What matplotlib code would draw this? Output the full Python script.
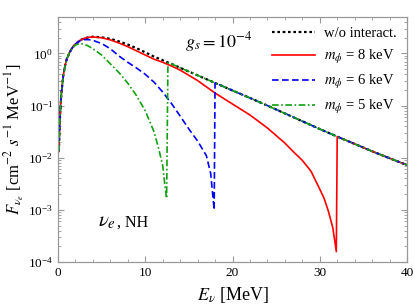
import matplotlib
matplotlib.use("Agg")
import matplotlib.pyplot as plt
from matplotlib.ticker import MultipleLocator, LogLocator, NullFormatter

plt.rcParams['font.family'] = ['Liberation Serif', 'DejaVu Serif']
plt.rcParams['mathtext.fontset'] = 'stix'

# ---- data ----
E_black = [0.1, 0.2, 0.3, 0.4, 0.6, 0.8, 1.0, 1.3, 1.6, 2.0, 2.5, 3.0, 3.5, 4.0,
           5.0, 6.0, 7.0, 8.0, 9.0, 10, 11, 12, 13, 14, 16, 18, 20, 22, 24, 26,
           28, 30, 32, 34, 36, 38, 40]
F_black = [0.0132, 0.0501, 0.105, 0.178, 0.372, 0.575, 0.776, 1.02, 1.26, 1.51,
           1.78, 1.95, 2.04, 2.09, 2.04, 1.91, 1.70, 1.48, 1.26, 1.05, 0.871,
           0.741, 0.631, 0.531, 0.380, 0.272, 0.195, 0.140, 0.100, 0.0708,
           0.0501, 0.0355, 0.0254, 0.0184, 0.0133, 0.00977, 0.00724]

E_red = [0.1, 0.2, 0.3, 0.4, 0.6, 0.8, 1.0, 1.3, 1.6, 2.0, 2.5, 3.0, 3.5, 4.0,
         5.0, 6.0, 7.0, 8.0, 9.0, 10, 11, 12, 13, 14, 16, 18, 20, 22, 24, 26,
         27, 28, 29, 30, 30.5, 31.0, 31.5, 31.9, 32.0, 34, 36, 38, 40]
F_red = [0.0132, 0.0501, 0.105, 0.178, 0.372, 0.575, 0.776, 1.02, 1.26, 1.51,
         1.78, 1.95, 2.04, 2.07, 2.00, 1.82, 1.58, 1.35, 1.12, 0.933, 0.776,
         0.676, 0.575, 0.479, 0.302, 0.174, 0.107, 0.066, 0.0372, 0.0191,
         0.0129, 0.0089, 0.0055, 0.0025, 0.00166, 0.00093, 0.00045, 0.000158,
         0.0254, 0.0184, 0.0133, 0.00977, 0.00724]

E_blue = [0.1, 0.2, 0.3, 0.4, 0.6, 0.8, 1.0, 1.3, 1.6, 2.0, 2.5, 3.0, 3.5, 4.0,
          5.0, 6.0, 7.0, 8.0, 9.0, 10, 11, 12, 13, 14, 15, 16, 17, 17.5, 17.9,
          18.0, 20, 22, 24, 26, 28, 30, 32, 34, 36, 38, 40]
F_blue = [0.0132, 0.0501, 0.105, 0.178, 0.372, 0.575, 0.776, 1.02, 1.26, 1.51,
          1.74, 1.84, 1.84, 1.78, 1.55, 1.23, 0.89, 0.676, 0.525, 0.398, 0.282,
          0.182, 0.110, 0.063, 0.0355, 0.0209, 0.011, 0.005, 0.001,
          0.272, 0.195, 0.140, 0.100, 0.0708, 0.0501, 0.0355, 0.0254, 0.0184,
          0.0133, 0.00977, 0.00724]

E_green = [0.1, 0.2, 0.3, 0.4, 0.6, 0.8, 1.0, 1.3, 1.6, 2.0, 2.5, 3.0, 3.5, 4.0,
           5.0, 6.0, 7.0, 8.0, 9.0, 10, 11, 11.5, 12.0, 12.3, 12.45, 12.6, 13,
           14, 16, 18, 20, 22, 24, 26, 28, 30, 32, 34, 36, 38, 40]
F_green = [0.0132, 0.0501, 0.105, 0.178, 0.372, 0.575, 0.776, 1.02, 1.26, 1.45,
           1.55, 1.51, 1.38, 1.23, 0.933, 0.631, 0.427, 0.269, 0.155, 0.0794,
           0.0316, 0.0158, 0.00708, 0.00251, 0.00166, 0.66, 0.631, 0.531,
           0.380, 0.272, 0.195, 0.140, 0.100, 0.0708, 0.0501, 0.0355, 0.0254,
           0.0184, 0.0133, 0.00977, 0.00724]

labels = ["w/o interact.", r"$m_\phi$ = 8 keV", r"$m_\phi$ = 6 keV", r"$m_\phi$ = 5 keV"]

# ---- figure ----
fig = plt.figure(figsize=(4.15, 3.06), dpi=100)
ax = fig.add_axes([58/415, 1-262/306, (407-58)/415, (262-17)/306])

ax.plot(E_black, F_black, color='black', ls=(0, (1.2, 1.2)), lw=1.6, label=labels[0])
ax.plot(E_red, F_red, color='#ff0000', ls='-', lw=1.2, label=labels[1])
ax.plot(E_blue, F_blue, color='#0000ff', ls=(0, (4, 2)), lw=1.2, label=labels[2])
ax.plot(E_green, F_green, color='#10a010', ls=(0, (4, 1.5, 1, 1.5)), lw=1.2, label=labels[3])

ax.set_yscale('log')
ax.set_xlim(0, 40)
ax.set_ylim(1e-4, 5)

ax.xaxis.set_major_locator(MultipleLocator(10))
ax.xaxis.set_minor_locator(MultipleLocator(2))
ax.yaxis.set_major_locator(LogLocator(base=10, numticks=10))
ax.yaxis.set_minor_locator(LogLocator(base=10, subs=range(2, 10), numticks=10))
ax.yaxis.set_minor_formatter(NullFormatter())

grey = '#999999'
for s in ax.spines.values():
    s.set_color(grey)
    s.set_linewidth(0.9)
ax.tick_params(which='both', direction='in', top=True, right=True, color=grey,
               labelsize=9.5, labelcolor='black')
ax.tick_params(which='major', length=4, width=0.8)
ax.tick_params(which='minor', length=2, width=0.6)

ax.set_xlabel(r"$E_\nu$ [MeV]", fontsize=13)
ax.xaxis.set_label_coords(0.5, -0.095)
ax.set_ylabel(r"$F_{\nu_e}$ [cm$^{-2}$ $s^{-1}$ MeV$^{-1}$]", fontsize=12)
ax.yaxis.set_label_coords(-0.088, 0.5)

ax.text((185-58)/349, (262-42)/245, r"$g_s = 10^{-4}$", transform=ax.transAxes,
        fontsize=13, va='center')
ax.text((98-58)/349, 0.145, r"$\nu_e$", transform=ax.transAxes, fontsize=15, va='baseline')
ax.text((117-58)/349, 0.145, ", NH", transform=ax.transAxes, fontsize=11.5, va='baseline')

leg = ax.legend(loc='upper right', frameon=False, fontsize=10.5, handlelength=3.0,
                handletextpad=0.6, labelspacing=0.5, borderaxespad=0.3)

fig.savefig("out.png", dpi=100)
